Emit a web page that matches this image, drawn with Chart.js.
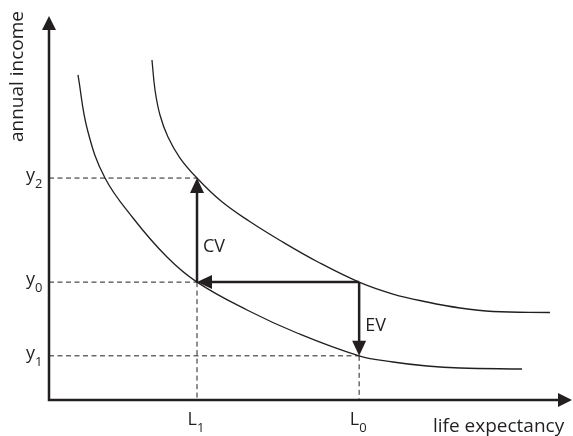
<!DOCTYPE html>
<html>
<head>
<meta charset="utf-8">
<script src="https://cdn.jsdelivr.net/npm/chart.js@4"></script>
<style>
  html, body { margin: 0; padding: 0; background: #fff; }
  #wrap { width: 573px; height: 436px; }
</style>
</head>
<body>
<div id="wrap"><canvas id="chart" width="573" height="436"></canvas></div>
<script>
// axis titles
const xTitle = 'life expectancy';
const yTitle = 'annual income';

// income levels y0, y1, y2 and life expectancy levels L0, L1
const yLevelBase = 'y';
const yLevelSubs = ['0', '1', '2'];
const yLevels = [30.7, 11.5, 57.8];
const xLevelBase = 'L';
const xLevelSubs = ['0', '1'];
const xLevels = [59.3, 28.3];

// arrow labels
const cvLabel = 'CV';
const evLabel = 'EV';

// lower indifference curve
const lowerX = [5.54, 7.36, 10.71, 16.06, 22.56, 28.3, 37.86, 47.42, 59.3, 65.77, 72.28, 78.59, 90.44];
const lowerY = [84.64, 70.31, 57.8, 47.4, 37.24, 30.7, 23.44, 17.45, 11.5, 9.9, 8.85, 8.33, 8.07];

// upper indifference curve
const upperX = [19.69, 20.27, 21.22, 22.75, 25.05, 28.3, 32.89, 38.24, 44.36, 51.43, 59.3, 65.77, 72.28, 78.59, 84.89, 95.79];
const upperY = [88.54, 80.73, 74.22, 68.49, 63.02, 57.8, 51.82, 46.61, 41.41, 35.94, 30.7, 27.6, 25.52, 23.96, 23.05, 22.79];

const ink = '#231f20';
const fontFamily = '"Open Sans", "Noto Sans", sans-serif';

const [y0, y1, y2] = yLevels;
const [L0, L1] = xLevels;

function pts(xs, ys) {
  return xs.map((x, i) => ({ x: x, y: ys[i] }));
}

function curve(data) {
  return {
    data: data,
    showLine: true,
    borderColor: ink,
    borderWidth: 1.3,
    pointRadius: 0,
    tension: 0.4,
    fill: false
  };
}

function guide(a, b) {
  return {
    data: [a, b],
    showLine: true,
    borderColor: ink,
    borderWidth: 1,
    borderDash: [5, 3.5],
    pointRadius: 0,
    fill: false
  };
}

function arrowHead(ctx, x, y, angle, len, half) {
  ctx.save();
  ctx.translate(x, y);
  ctx.rotate(angle);
  ctx.beginPath();
  ctx.moveTo(0, 0);
  ctx.lineTo(-len, -half);
  ctx.lineTo(-len, half);
  ctx.closePath();
  ctx.fill();
  ctx.restore();
}

function arrow(ctx, x1, y1p, x2, y2p, width) {
  const ang = Math.atan2(y2p - y1p, x2 - x1);
  const len = 15;
  const bx = x2 - Math.cos(ang) * (len - 1);
  const by = y2p - Math.sin(ang) * (len - 1);
  ctx.lineWidth = width;
  ctx.beginPath();
  ctx.moveTo(x1, y1p);
  ctx.lineTo(bx, by);
  ctx.stroke();
  arrowHead(ctx, x2, y2p, ang, len, 7);
}

function subLabel(ctx, base, sub, x, y, align) {
  ctx.font = '18px ' + fontFamily;
  const w = ctx.measureText(base).width;
  ctx.textBaseline = 'alphabetic';
  ctx.textAlign = 'left';
  const left = align === 'right' ? x - w : x;
  ctx.fillText(base, left, y);
  ctx.font = '13px ' + fontFamily;
  ctx.fillText(sub, left + w, y + 7);
}

const diagramPlugin = {
  id: 'diagram',
  afterDatasetsDraw(chart) {
    const { ctx, chartArea: { left, right, top, bottom }, scales: { x, y } } = chart;
    ctx.save();
    ctx.fillStyle = ink;
    ctx.strokeStyle = ink;
    ctx.lineCap = 'butt';

    // axes with arrow heads
    ctx.lineWidth = 2.5;
    ctx.beginPath();
    ctx.moveTo(left, top + 12);
    ctx.lineTo(left, bottom);
    ctx.lineTo(right - 12, bottom);
    ctx.stroke();
    arrowHead(ctx, left, top, -Math.PI / 2, 14, 7);
    arrowHead(ctx, right, bottom, 0, 14, 7);

    // CV, shift and EV arrows
    arrow(ctx, x.getPixelForValue(L1), y.getPixelForValue(y0), x.getPixelForValue(L1), y.getPixelForValue(y2), 2.5);
    arrow(ctx, x.getPixelForValue(L0), y.getPixelForValue(y0), x.getPixelForValue(L1), y.getPixelForValue(y0), 2.5);
    arrow(ctx, x.getPixelForValue(L0), y.getPixelForValue(y0), x.getPixelForValue(L0), y.getPixelForValue(y1), 2.5);

    // level labels
    yLevels.forEach((v, i) => {
      subLabel(ctx, yLevelBase, yLevelSubs[i], left - 14, y.getPixelForValue(v) + 3, 'right');
    });
    xLevels.forEach((v, i) => {
      subLabel(ctx, xLevelBase, xLevelSubs[i], x.getPixelForValue(v), bottom + 25, 'right');
    });

    ctx.font = '18px ' + fontFamily;
    ctx.textAlign = 'left';
    ctx.textBaseline = 'alphabetic';
    ctx.fillText(cvLabel, x.getPixelForValue(L1) + 6, y.getPixelForValue((y0 + y2) / 2) + 22);
    ctx.fillText(evLabel, x.getPixelForValue(L0) + 6, y.getPixelForValue((y0 + y1) / 2) + 12);

    // axis titles
    ctx.font = '19px ' + fontFamily;
    ctx.fillText(xTitle, 433, bottom + 32);
    ctx.save();
    ctx.translate(23, top + 126);
    ctx.rotate(-Math.PI / 2);
    ctx.fillText(yTitle, 0, 0);
    ctx.restore();

    ctx.restore();
  }
};

new Chart(document.getElementById('chart').getContext('2d'), {
  type: 'scatter',
  data: {
    datasets: [
      curve(pts(lowerX, lowerY)),
      curve(pts(upperX, upperY)),
      guide({ x: 0, y: y2 }, { x: L1, y: y2 }),
      guide({ x: 0, y: y0 }, { x: L1, y: y0 }),
      guide({ x: 0, y: y1 }, { x: L0, y: y1 }),
      guide({ x: L1, y: y0 }, { x: L1, y: 0 }),
      guide({ x: L0, y: y1 }, { x: L0, y: 0 })
    ]
  },
  options: {
    responsive: false,
    animation: false,
    layout: { padding: { left: 49, right: 1, top: 16, bottom: 36 } },
    scales: {
      x: { type: 'linear', display: false, min: 0, max: 100 },
      y: { type: 'linear', display: false, min: 0, max: 100 }
    },
    plugins: {
      legend: { display: false },
      tooltip: { enabled: false }
    }
  },
  plugins: [diagramPlugin]
});
</script>
</body>
</html>
